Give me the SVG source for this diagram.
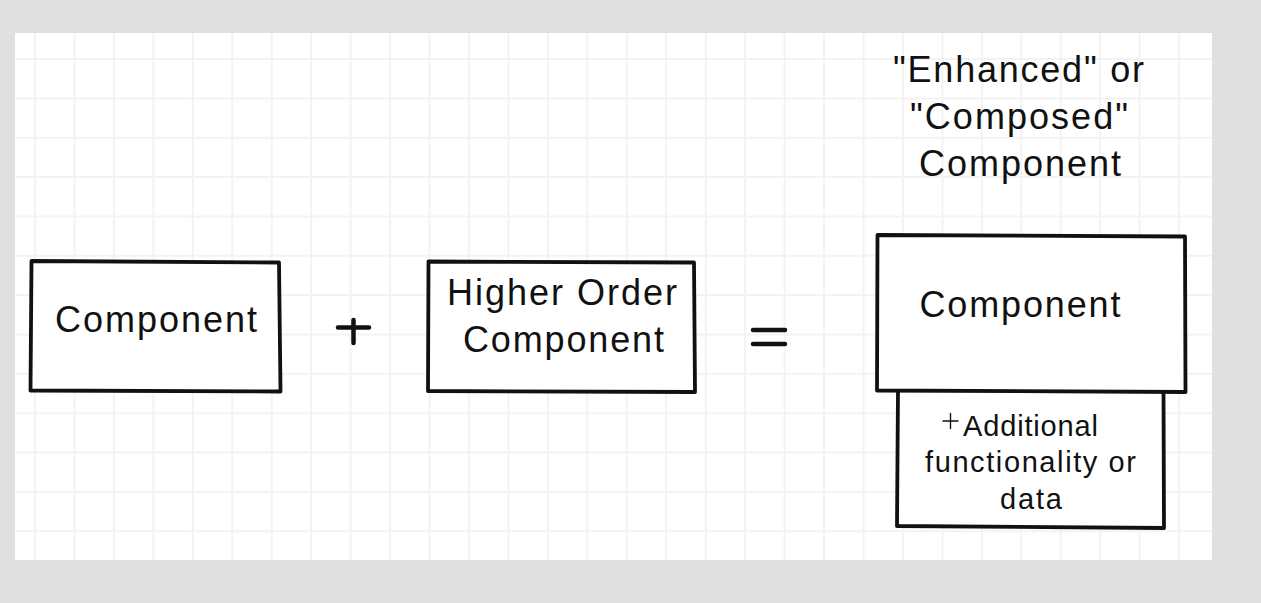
<svg xmlns="http://www.w3.org/2000/svg" width="1261" height="603" viewBox="0 0 1261 603">
<style>
.grid{stroke:#f3f3f3;stroke-width:2;fill:none}
.box{fill:#ffffff;stroke:#111111;stroke-width:3.8;stroke-linejoin:round}
.t{font-family:"Liberation Sans",Arial,sans-serif;font-size:36px;fill:#111111;text-anchor:middle}
.s{font-family:"Liberation Sans",Arial,sans-serif;font-size:29px;fill:#111111;text-anchor:middle}
.op{stroke:#111111;stroke-width:4.5;stroke-linecap:round;fill:none}
</style>
<rect x="0" y="0" width="1261" height="603" fill="#e0e0e0"/>
<rect x="15" y="33" width="1197" height="527" fill="#ffffff"/>
<g id="grid" class="grid">
<path d="M35 33V560M74.5 33V560M113.9 33V560M153.4 33V560M192.8 33V560M232.3 33V560M271.7 33V560M311.2 33V560M350.6 33V560M390.1 33V560M429.5 33V560M469 33V560M508.4 33V560M547.9 33V560M587.3 33V560M626.8 33V560M666.2 33V560M705.7 33V560M745.1 33V560M784.6 33V560M824 33V560M863.5 33V560M902.9 33V560M942.4 33V560M981.8 33V560M1021.3 33V560M1060.7 33V560M1100.2 33V560M1139.6 33V560M1179.1 33V560"/>
<path d="M15 59H1212M15 98.4H1212M15 137.7H1212M15 177.1H1212M15 216.4H1212M15 255.8H1212M15 295.1H1212M15 334.5H1212M15 373.8H1212M15 413.2H1212M15 452.5H1212M15 491.9H1212M15 531.2H1212"/>
</g>
<g id="title">
<text class="t" x="1018.5" y="82" textLength="251" lengthAdjust="spacing">"Enhanced" or</text>
<text class="t" x="1019" y="129" textLength="218" lengthAdjust="spacing">"Composed"</text>
<text class="t" x="1020" y="176" textLength="202" lengthAdjust="spacing">Component</text>
</g>
<g id="component">
<path class="box" d="M31.5 261L279 262.5L280.5 391.5L30.5 390.5Z"/>
<text class="t" x="156" y="332" textLength="202" lengthAdjust="spacing">Component</text>
</g>
<g id="plus">
<path class="op" d="M338 327.5H369M353.5 320V343"/>
</g>
<g id="hoc">
<path class="box" d="M428.5 261.5L694 262.5L695 392L428 391Z"/>
<text class="t" x="562" y="305" textLength="230" lengthAdjust="spacing">Higher Order</text>
<text class="t" x="563.5" y="352" textLength="201" lengthAdjust="spacing">Component</text>
</g>
<g id="equals">
<path class="op" d="M753 330H785M753 344H785"/>
</g>
<g id="extra">
<path class="box" d="M898 390L1163.5 390L1164 528L897 526Z"/>
<path class="op" d="M943 421H958M950.5 413.5V428.5" style="stroke-width:1.4"/>
<text class="s" x="1030.5" y="436" textLength="135" lengthAdjust="spacing">Additional</text>
<text class="s" x="1030.5" y="472" textLength="211" lengthAdjust="spacing">functionality or</text>
<text class="s" x="1031" y="509" textLength="62" lengthAdjust="spacing">data</text>
</g>
<g id="composed">
<path class="box" d="M877.5 235L1185 236.5L1185.5 392L877 390.5Z"/>
<text class="t" x="1020" y="317" textLength="201" lengthAdjust="spacing">Component</text>
</g>
<g id="connectors"></g>
</svg>
